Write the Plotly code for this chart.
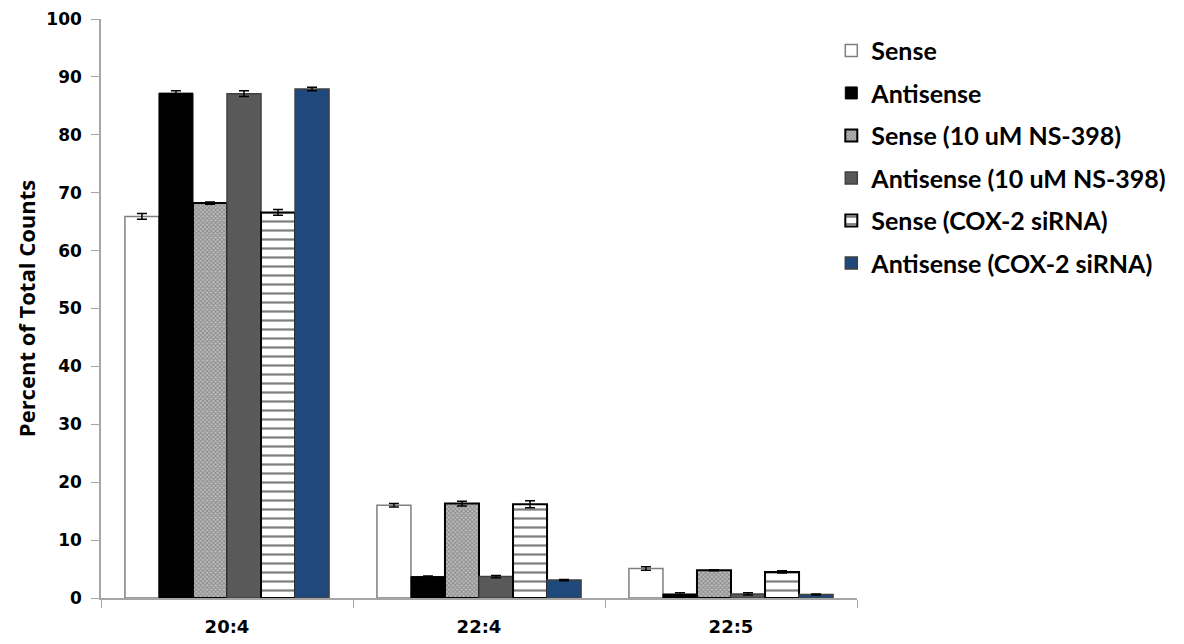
import plotly.graph_objects as go

categories = ["20:4", "22:4", "22:5"]

series_names = [
    "Sense",
    "Antisense",
    "Sense (10 uM NS-398)",
    "Antisense (10 uM NS-398)",
    "Sense (COX-2 siRNA)",
    "Antisense (COX-2 siRNA)",
]

sense = [65.9, 16.0, 5.1]
antisense = [87.2, 3.7, 0.7]
sense_ns398 = [68.2, 16.3, 4.8]
antisense_ns398 = [87.1, 3.7, 0.7]
sense_sirna = [66.6, 16.2, 4.5]
antisense_sirna = [87.9, 3.1, 0.6]

sense_err = [0.5, 0.3, 0.3]
antisense_err = [0.4, 0.1, 0.2]
sense_ns398_err = [0.2, 0.4, 0.1]
antisense_ns398_err = [0.5, 0.2, 0.2]
sense_sirna_err = [0.5, 0.6, 0.2]
antisense_sirna_err = [0.3, 0.1, 0.1]

y_ticks = [0, 10, 20, 30, 40, 50, 60, 70, 80, 90, 100]

values = [sense, antisense, sense_ns398, antisense_ns398, sense_sirna, antisense_sirna]
errors = [sense_err, antisense_err, sense_ns398_err, antisense_ns398_err,
          sense_sirna_err, antisense_sirna_err]

styles = [
    dict(color="white", line=dict(color="#7f7f7f", width=1.5)),
    dict(color="black", line=dict(color="black", width=1)),
    dict(color="#999999", line=dict(color="black", width=2),
         pattern=dict(shape="x", fgcolor="#555555", bgcolor="#bdbdbd", size=3, solidity=0.5)),
    dict(color="#595959", line=dict(color="#404040", width=1.5)),
    dict(color="white", line=dict(color="black", width=2),
         pattern=dict(shape="-", fgcolor="black", bgcolor="white", size=9, solidity=0.25)),
    dict(color="#1f497d", line=dict(color="#404040", width=1.5)),
]

fig = go.Figure()
for i, (name, vals, errs, st) in enumerate(zip(series_names, values, errors, styles)):
    fig.add_trace(go.Bar(
        name=name,
        x=categories,
        y=vals,
        marker=st,
        legendgroup=f"g{i}",
        error_y=dict(type="data", array=errs, visible=True,
                     color="black", thickness=1.5, width=5),
    ))

fig.update_layout(
    width=1184,
    height=644,
    barmode="group",
    bargap=0.19,
    bargroupgap=0,
    plot_bgcolor="white",
    paper_bgcolor="white",
    margin=dict(l=101, r=324, t=19, b=46),
    font=dict(family="Lato", color="black"),
    legend=dict(
        x=0.966, y=0.985, xanchor="left", yanchor="top",
        font=dict(family="Lato", size=25, color="black", weight="bold"),
        tracegroupgap=7,
        itemwidth=30,
        bgcolor="rgba(0,0,0,0)",
    ),
    showlegend=True,
)

fig.update_xaxes(
    showline=True, linecolor="#a6a6a6", linewidth=1.5,
    ticks="outside", tickson="boundaries", ticklen=8, tickcolor="#a6a6a6",
    tickfont=dict(family="DejaVu Sans", size=18, color="black", weight="bold"),
    ticklabelstandoff=12,
    automargin=False,
    showgrid=False,
)

fig.update_yaxes(
    range=[0, 100],
    tickvals=y_ticks,
    showline=True, linecolor="#a6a6a6", linewidth=1.5,
    ticks="outside", ticklen=8, tickcolor="#a6a6a6",
    tickfont=dict(family="DejaVu Sans", size=17, color="black", weight="bold"),
    ticklabelstandoff=6,
    automargin=False,
    showgrid=False,
    zeroline=False,
    title=dict(text="Percent of Total Counts",
               font=dict(family="Open Sans", size=22, color="black", weight="bold"),
               standoff=5),
)

fig.write_html("out.html")
